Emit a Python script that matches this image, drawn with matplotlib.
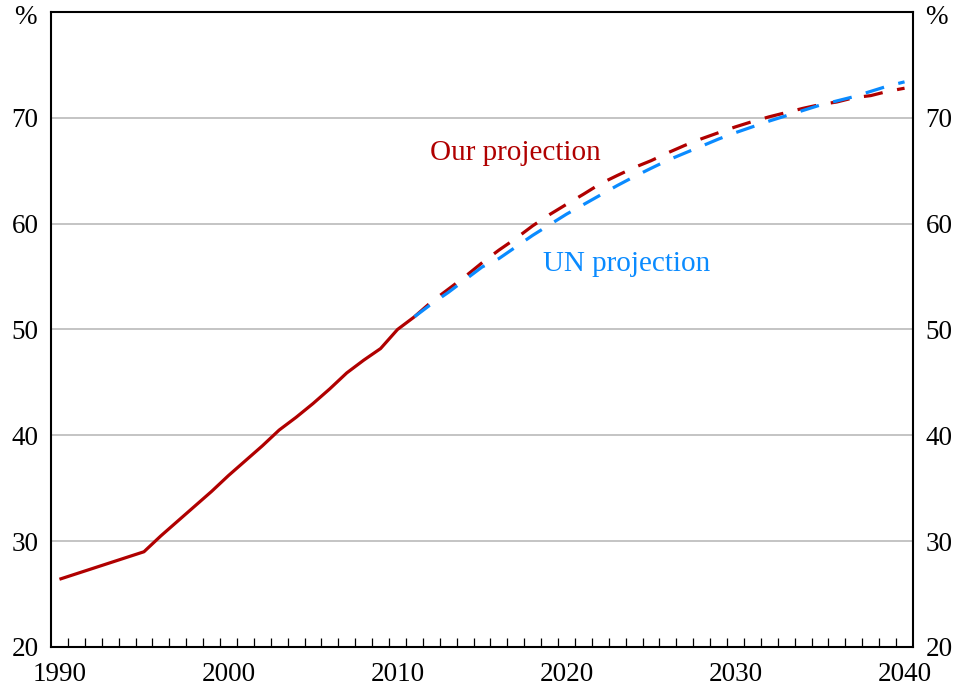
import numpy as np
import matplotlib
matplotlib.use("Agg")
import matplotlib.pyplot as plt
from matplotlib.ticker import FixedLocator

# ---- data ----
hist_years = [1990, 1995, 1996, 1997, 1998, 1999, 2000, 2001, 2002, 2003,
              2004, 2005, 2006, 2007, 2008, 2009, 2010, 2011]
hist_vals = [26.4, 29.0, 30.5, 31.9, 33.3, 34.7, 36.2, 37.6, 39.0, 40.5,
             41.7, 43.0, 44.4, 45.9, 47.1, 48.2, 50.0, 51.2]

proj_years = list(range(2011, 2041))
our_proj = [51.2, 52.6, 53.8, 55.0, 56.3, 57.5, 58.6, 59.8, 60.86, 61.83,
            62.78, 63.77, 64.55, 65.3, 65.95, 66.7, 67.4, 68.03, 68.6, 69.15,
            69.65, 70.1, 70.5, 70.9, 71.25, 71.5, 71.9, 72.1, 72.5, 72.8]
un_proj = [51.2, 52.4, 53.5, 54.7, 55.9, 56.7, 57.8, 58.9, 59.9, 60.9,
           61.8, 62.7, 63.6, 64.44, 65.23, 66.0, 66.67, 67.33, 68.0, 68.6,
           69.15, 69.7, 70.2, 70.7, 71.2, 71.6, 72.0, 72.5, 73.0, 73.4]

x_labels = [1990, 2000, 2010, 2020, 2030, 2040]
y_ticks = [20, 30, 40, 50, 60, 70]

RED = "#B00000"
BLUE = "#0A8BFF"

plt.rcParams['font.family'] = ['Liberation Serif', 'DejaVu Serif']
FS = 19.5
FS_LAB = 21

fig = plt.figure(figsize=(9.58, 6.9), dpi=100)
ax = fig.add_axes([51/958, 43/690, 862/958, 635/690])

ax.set_xlim(1989.5, 2040.5)
ax.set_ylim(20, 80)

for yv in y_ticks[1:]:
    ax.axhline(yv, color="#b4b4b4", lw=1.1, zorder=1)

lw = 2.3
ax.plot(proj_years, our_proj, color=RED, lw=lw, dashes=(6, 4.6), zorder=3)
ax.plot(proj_years, un_proj, color=BLUE, lw=lw, dashes=(6, 4.6), zorder=4)
ax.plot(hist_years, hist_vals, color=RED, lw=lw, zorder=5,
        solid_capstyle='butt', solid_joinstyle='round')

ax.text(2017.0, 66.7, "Our projection", color=RED, fontsize=FS_LAB,
        ha='center', va='center')
ax.text(2023.55, 56.2, "UN projection", color=BLUE, fontsize=FS_LAB,
        ha='center', va='center')

# axes / ticks
ax.xaxis.set_major_locator(FixedLocator(x_labels))
ax.set_xticklabels([str(v) for v in x_labels])
ax.xaxis.set_minor_locator(FixedLocator(np.arange(1990.5, 2040, 1.0)))
ax.tick_params(axis='x', which='major', length=0, pad=11, labelsize=FS)
ax.tick_params(axis='x', which='minor', direction='in', length=6.5,
               width=0.9, color='black', top=False)

ax.set_yticks(y_ticks)
ax.set_yticklabels([str(v) for v in y_ticks])
ax.tick_params(axis='y', which='major', length=0, pad=9, labelsize=FS,
               labelleft=True, labelright=True)

for s in ax.spines.values():
    s.set_linewidth(1.5)
    s.set_color('black')

fig.text(25/958, 1 - 18/690, "%", fontsize=FS, ha='center', va='center')
fig.text(936/958, 1 - 18/690, "%", fontsize=FS, ha='center', va='center')

fig.savefig("out.png", dpi=100)
